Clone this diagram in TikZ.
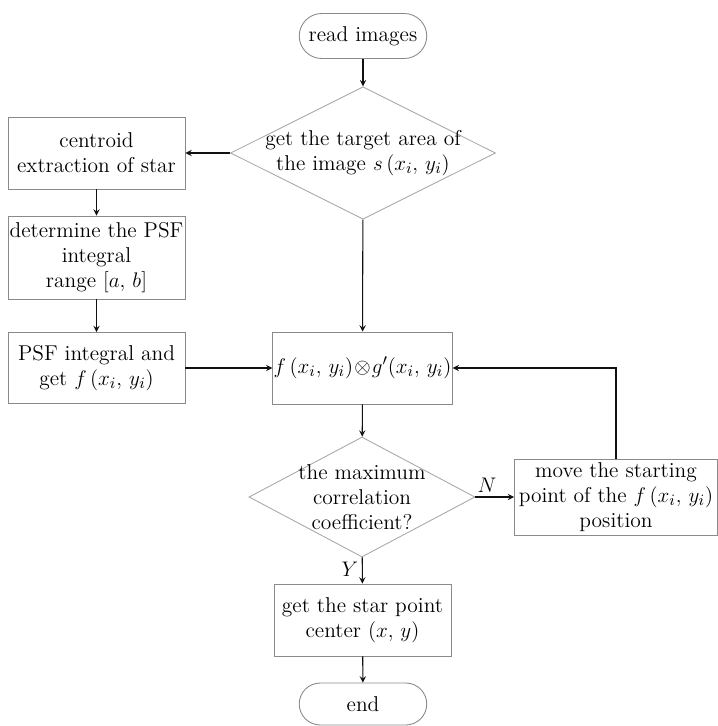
\documentclass[tikz,border=0pt]{standalone}
\usepackage{amsmath}
\usepackage{amssymb}
\usetikzlibrary{positioning,shapes.geometric,arrows}
\definecolor{ink}  {HTML}{111111}
\definecolor{frame}{HTML}{8A8A8A}
\definecolor{rim}  {HTML}{A8A8A8}
\tikzset{
  >=stealth,
  every node/.style={font=\fontsize{12.2}{14.2}\selectfont},
  % --- nodes
  proc/.style = {draw=frame, line width=0.5pt, align=center, inner xsep=0.5pt,
                 inner ysep=2pt, minimum width=3.54cm, minimum height=1.44cm},
  term/.style = {draw=frame, line width=0.5pt, rounded corners=0.45cm,
                 minimum width=2.55cm, minimum height=0.9cm},
  dec/.style  = {diamond, draw=rim, line width=0.5pt, align=center},
  % --- edges
  e/.style    = {->, line width=0.6pt, draw=ink},
  yn/.style   = {font=\fontsize{12.2}{14.2}\selectfont, inner sep=2pt},
}
\begin{document}
\begin{tikzpicture}
  \useasboundingbox (0,0) rectangle (14.36,-14.52);
  \node[term] (rd)  at (7.26,-0.72) {read images};
  \node[dec, aspect=2, inner sep=-2pt, minimum width=5.2cm, minimum height=2.6cm]
        (tgt) at (7.26,-3.06) {get the target area of\\the image $s\,(x_i,\,y_i)$};
  \node[proc] (cen) at (1.93,-3.06) {centroid\\extraction of star};
  \node[proc, minimum height=1.66cm] (rng) at (1.93,-5.15)
        {determine the PSF\\integral\\range $[a,\,b]$};
  \node[proc, minimum height=1.42cm] (psf) at (1.93,-7.36)
        {PSF integral and\\get $f\,(x_i,\,y_i)$};
  \node[proc] (cor) at (7.25,-7.36) {$f\,(x_i,\,y_i)\!\otimes\! g'(x_i,\,y_i)$};
  \node[dec, aspect=1.88, inner sep=-3pt, minimum width=4.52cm, minimum height=2.4cm]
        (max) at (7.24,-9.94) {the maximum\\correlation\\coefficient?};
  \node[proc, minimum width=4.06cm, minimum height=1.42cm] (mov) at (12.32,-9.94)
        {move the starting\\point of the $f\,(x_i,\,y_i)$\\position};
  \node[proc] (pt)  at (7.25,-12.4) {get the star point\\center $(x,\,y)$};
  \node[term, minimum height=0.84cm, rounded corners=0.42cm] (fin) at (7.26,-14.08) {end};

  \draw[e] (rd)--(tgt);
  \draw[e] (tgt)--(cen);
  \draw[e] (cen)--(rng); \draw[e] (rng)--(psf);
  \draw[e] (psf)--(cor);
  \draw[e] (tgt)--(cor);
  \draw[e] (cor)--(max);
  \draw[e] (max)--(mov) node[yn, pos=0.3, above] {$N$};
  \draw[e] (mov.north) |- (cor.east);
  \draw[e] (max)--(pt) node[yn, pos=0.45, left] {$Y$};
  \draw[e] (pt)--(fin);
\end{tikzpicture}
\end{document}
